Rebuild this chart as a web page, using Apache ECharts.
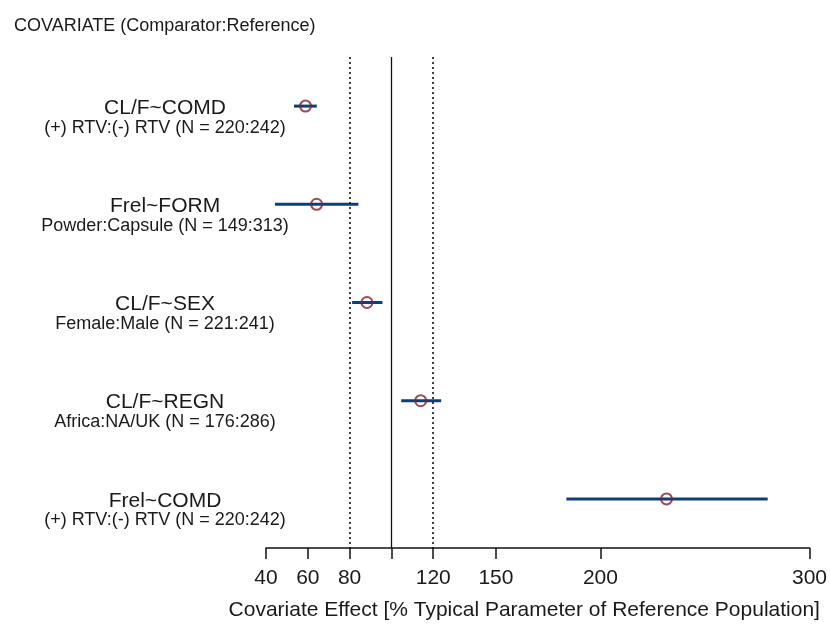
<!DOCTYPE html>
<html><head><meta charset="utf-8">
<script src="https://cdn.jsdelivr.net/npm/echarts@6/dist/echarts.min.js"></script>
<style>html,body{margin:0;padding:0;background:#fff}#c{width:830px;height:630px}</style>
</head><body><div id="c"></div>
<script>
const covariates = ['CL/F~COMD', 'Frel~FORM', 'CL/F~SEX', 'CL/F~REGN', 'Frel~COMD'];
const comparisons = ['(+) RTV:(-) RTV (N = 220:242)', 'Powder:Capsule (N = 149:313)', 'Female:Male (N = 221:241)', 'Africa:NA/UK (N = 176:286)', '(+) RTV:(-) RTV (N = 220:242)'];
const estimates = [58.9, 64.2, 88.3, 114.0, 231.6];
const lower = [53.4, 44.3, 81.2, 104.7, 183.7];
const upper = [64.3, 84.2, 95.7, 123.8, 280.0];
const tickValues = [40, 60, 80, 100, 120, 150, 200, 300];
const labelValues = [40, 60, 80, 120, 150, 200, 300];
const refLines = [80, 100, 120];

const FONT = "'Liberation Sans', Arial, sans-serif";
const chart = echarts.init(document.getElementById('c'), null, {renderer: 'canvas'});
const ciData = covariates.map((c, i) => [lower[i], upper[i], i]);
const estData = covariates.map((c, i) => [estimates[i], c]);

chart.setOption({
  animation: false,
  backgroundColor: '#fff',
  title: {
    text: 'COVARIATE (Comparator:Reference)',
    left: 9, top: 12,
    textStyle: {fontFamily: FONT, fontSize: 18, fontWeight: 'normal', color: '#1a1a1a'}
  },
  grid: {left: 266, right: 19, top: 57, bottom: 82, containLabel: false},
  xAxis: {
    type: 'value', min: 40, max: 300,
    name: 'Covariate Effect [% Typical Parameter of Reference Population]',
    nameLocation: 'middle', nameGap: 52,
    nameTextStyle: {fontFamily: FONT, fontSize: 21, color: '#1a1a1a', padding: [0, 27, 0, 0]},
    axisLine: {show: true, lineStyle: {color: '#111', width: 1.5}},
    axisTick: {show: true, customValues: tickValues, length: 11, lineStyle: {color: '#111', width: 1.5}},
    axisLabel: {customValues: labelValues, fontFamily: FONT, fontSize: 21, color: '#1a1a1a', margin: 20},
    splitLine: {show: false}
  },
  yAxis: {
    type: 'category', inverse: true, data: covariates,
    axisLine: {show: false}, axisTick: {show: false}, splitLine: {show: false},
    axisLabel: {
      align: 'center', margin: 101,
      padding: [23, 0, 0, 0],
      formatter: (v, i) => '{a|' + v + '}\n{b|' + comparisons[i] + '}',
      rich: {
        a: {fontFamily: FONT, fontSize: 21, lineHeight: 20, color: '#1a1a1a', align: 'center'},
        b: {fontFamily: FONT, fontSize: 18, lineHeight: 19, color: '#1a1a1a', align: 'center'}
      }
    }
  },
  series: [
    {
      type: 'custom',
      data: ciData,
      encode: {x: [0, 1], y: 2},
      renderItem: (params, api) => {
        const a = api.coord([api.value(0), api.value(2)]);
        const b = api.coord([api.value(1), api.value(2)]);
        return {type: 'line', shape: {x1: a[0], y1: a[1], x2: b[0], y2: b[1]},
          style: {stroke: '#0f3f72', lineWidth: 3}};
      },
      z: 2
    },
    {
      type: 'scatter',
      data: estData,
      symbol: 'circle', symbolSize: 11,
      itemStyle: {color: 'rgba(0,0,0,0)', borderColor: '#7e1f2e', borderWidth: 2},
      z: 3,
      markLine: {
        silent: true, symbol: 'none', label: {show: false},
        data: refLines.map(v => ({xAxis: v, lineStyle: {color: '#111', width: v === 100 ? 1.3 : 1.6, type: v === 100 ? 'solid' : [2, 3]}}))
      }
    }
  ]
});
</script></body></html>
